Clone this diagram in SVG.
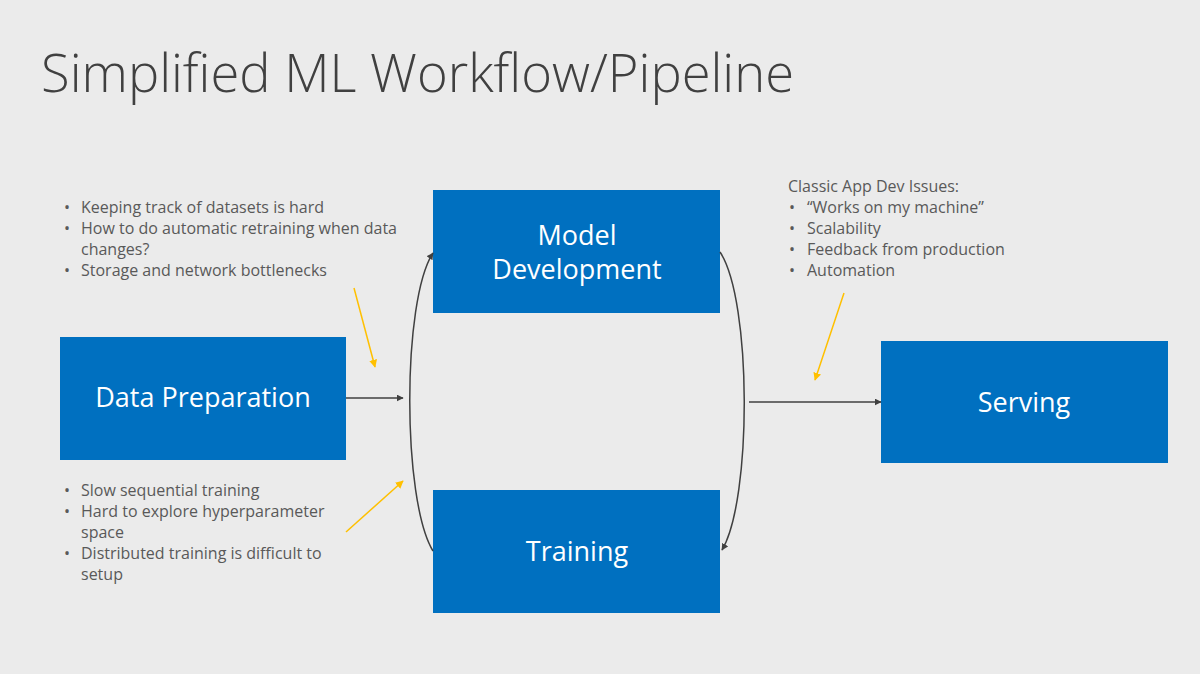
<svg xmlns="http://www.w3.org/2000/svg" width="1200" height="674" viewBox="0 0 1200 674">
<style>
.box{fill:#0070C0;}
.bt{font-family:"Open Sans","Liberation Sans",sans-serif;font-size:27px;fill:#ffffff;text-anchor:middle;}
.note{font-family:"Open Sans","Liberation Sans",sans-serif;font-size:16px;fill:#595959;}
.title{font-family:"Open Sans","Liberation Sans",sans-serif;font-weight:300;font-size:52.5px;fill:#404040;}
.conn{fill:none;stroke:#404040;stroke-width:1.5;}
.hint{fill:none;stroke:#FFC000;stroke-width:1.5;}
</style>
<defs>
<marker id="ah" viewBox="0 0 10 10" refX="9" refY="5" markerWidth="7" markerHeight="7" markerUnits="userSpaceOnUse" orient="auto"><path d="M0,0 L10,5 L0,10 z" fill="#404040"/></marker>
<marker id="ahy" viewBox="0 0 10 10" refX="9" refY="5" markerWidth="8" markerHeight="8" markerUnits="userSpaceOnUse" orient="auto"><path d="M0,0 L10,5 L0,10 z" fill="#FFC000"/></marker>
</defs>
<rect width="1200" height="674" fill="#EBEBEB"/>
<text class="title" x="41" y="92">Simplified ML Workflow/Pipeline</text>

<g id="model-development">
<rect class="box" x="433" y="190" width="287" height="123"/>
<text class="bt" x="577" y="245">Model</text>
<text class="bt" x="577" y="279">Development</text>
</g>
<g id="data-preparation">
<rect class="box" x="60" y="337" width="286" height="123"/>
<text class="bt" x="203" y="407">Data Preparation</text>
</g>
<g id="training">
<rect class="box" x="433" y="490" width="287" height="123"/>
<text class="bt" x="577" y="561">Training</text>
</g>
<g id="serving">
<rect class="box" x="881" y="341" width="287" height="122"/>
<text class="bt" x="1024" y="412">Serving</text>
</g>

<g id="notes">
<g id="note-data" class="note">
<text x="64" y="213">•</text><text x="81" y="213">Keeping track of datasets is hard</text>
<text x="64" y="234">•</text><text x="81" y="234">How to do automatic retraining when data</text>
<text x="81" y="255">changes?</text>
<text x="64" y="276">•</text><text x="81" y="276">Storage and network bottlenecks</text>
</g>
<g id="note-training" class="note">
<text x="64" y="496">•</text><text x="81" y="496">Slow sequential training</text>
<text x="64" y="517">•</text><text x="81" y="517">Hard to explore hyperparameter</text>
<text x="81" y="538">space</text>
<text x="64" y="559">•</text><text x="81" y="559">Distributed training is difficult to</text>
<text x="81" y="580">setup</text>
</g>
<g id="note-serving" class="note">
<text x="788" y="192">Classic App Dev Issues:</text>
<text x="789" y="213">•</text><text x="807" y="213">“Works on my machine”</text>
<text x="789" y="234">•</text><text x="807" y="234">Scalability</text>
<text x="789" y="255">•</text><text x="807" y="255">Feedback from production</text>
<text x="789" y="276">•</text><text x="807" y="276">Automation</text>
</g>
</g>

<g id="connectors">
<line class="conn" x1="346" y1="398" x2="403" y2="398" marker-end="url(#ah)"/>
<path class="conn" d="M433,551 C402,500 402,300 433,253" marker-end="url(#ah)"/>
<path class="conn" d="M720,252 C752,300 752,500 722,550" marker-end="url(#ah)"/>
<line class="conn" x1="749" y1="402" x2="881" y2="402" marker-end="url(#ah)"/>
<line class="hint" x1="354" y1="288" x2="375" y2="367" marker-end="url(#ahy)"/>
<line class="hint" x1="346" y1="532" x2="403" y2="481" marker-end="url(#ahy)"/>
<line class="hint" x1="844" y1="293" x2="815" y2="380" marker-end="url(#ahy)"/>
</g>
</svg>
